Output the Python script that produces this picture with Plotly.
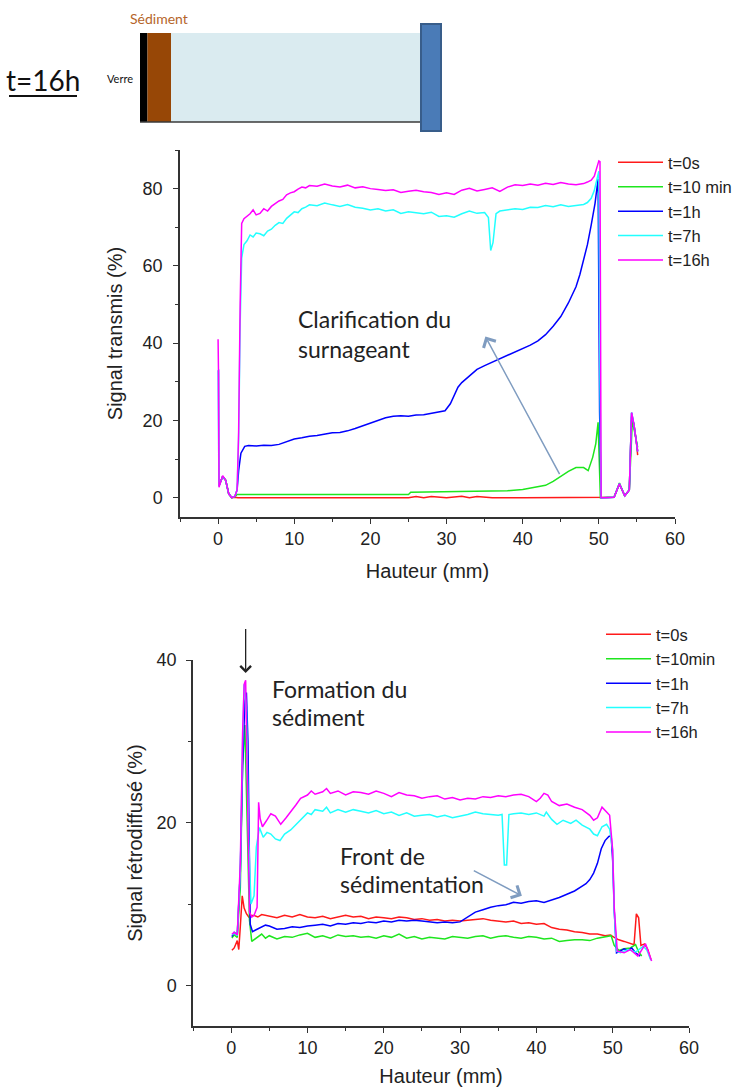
import plotly.graph_objects as go

W, H = 740, 1089

# ---------------- DATA ----------------
SERIES_NAMES_TOP = ["t=0s", "t=10 min", "t=1h", "t=7h", "t=16h"]
SERIES_NAMES_BOT = ["t=0s", "t=10min", "t=1h", "t=7h", "t=16h"]
SERIES_COLORS = ["#ff1a1a", "#1ee61e", "#0000ff", "#22ffff", "#ff00ff"]

# Top chart: transmission (%)
T_X_RED = [0.1, 0.6, 1.0, 1.4, 1.8, 2.2, 2.6, 3, 5, 10, 15, 20, 25, 26, 27, 28, 30, 32, 33, 34, 36, 40, 45, 49.9, 50.2, 51, 52, 52.7, 53.4, 54, 54.3, 54.6, 54.9, 55.1]
T_Y_RED = [3, 5.5, 4.5, 1, 0, 0.1, 0, 0, 0, 0, 0, 0, 0, 0.3, 0, 0.3, 0, 0.4, 0, 0.3, 0, 0, 0, 0, 0, 0, 0.1, 3.5, 0.5, 2, 21, 19, 15, 11]

T_X_GREEN = [0.1, 0.6, 1.0, 1.4, 1.8, 2.2, 2.5, 3, 10, 20, 25, 25.3, 30, 32, 35, 38, 40, 42, 43, 44, 45, 46, 47, 48, 48.6, 49.2, 49.6, 49.9, 50.2, 51, 52, 52.7, 53.4, 54, 54.4, 54.7, 55.1]
T_Y_GREEN = [3, 5.5, 4.5, 1, 0, 0.2, 0.8, 0.8, 0.8, 0.8, 0.8, 1.4, 1.5, 1.6, 1.6, 1.8, 2.1, 2.8, 3.2, 4.2, 5.6, 6.8, 7.8, 7.8, 7.0, 10.5, 14, 19.5, 0, 0, 0.1, 3.8, 0.5, 2, 20, 17, 13]

T_X_BLUE = [0, 0.05, 0.1, 0.6, 1.0, 1.4, 1.8, 2.2, 2.5, 2.7, 3.0, 3.5, 4, 5, 6, 7, 8, 9, 10, 11, 12, 13, 14, 15, 16, 17, 18, 19, 20, 21, 22, 23, 24, 25, 26, 27, 28, 29, 29.8, 30.5, 31, 31.5, 32, 33, 34, 35, 36, 37, 38, 39, 40, 41, 42, 43, 44, 45, 46, 47, 47.5, 48, 48.5, 49, 49.5, 49.9, 50.1, 50.3, 51, 52, 52.7, 53.4, 54, 54.3, 54.6, 54.9, 55.1]
T_Y_BLUE = [33, 33, 3, 5.5, 4.5, 1, 0, 0.3, 2, 7, 11.5, 13.3, 13.5, 13.4, 13.6, 13.5, 13.8, 14.6, 15.2, 15.5, 15.9, 16.1, 16.5, 16.8, 16.9, 17.3, 17.9, 18.6, 19.2, 20, 20.7, 21.1, 21.2, 21.1, 21.4, 21.5, 21.8, 22.1, 22.5, 24.3, 26.5, 28.6, 29.8, 31.6, 33.2, 34.2, 35.1, 35.8, 36.7, 37.6, 38.6, 39.5, 40.6, 42.2, 44.4, 46.9, 50.4, 54.6, 57.7, 61.6, 65.5, 70.6, 76.2, 82.5, 22, 0, 0, 0.1, 3.6, 0.5, 2, 22, 19, 15, 12]

T_X_CYAN = [0, 0.05, 0.1, 0.6, 1.0, 1.4, 1.8, 2.2, 2.5, 2.7, 2.9, 3.1, 3.4, 3.8, 4.2, 4.6, 5, 5.5, 6, 6.5, 7, 7.5, 8, 8.5, 9, 9.5, 10, 10.5, 11, 11.5, 12, 13, 14, 15, 16, 17, 18, 19, 20, 21, 22, 23, 24, 25, 26, 27, 28, 29, 30, 31, 32, 33, 34, 35, 35.5, 35.8, 36.1, 36.5, 37, 38, 39, 40, 41, 42, 43, 44, 45, 46, 47, 48, 48.5, 49, 49.4, 49.8, 50.0, 50.15, 50.3, 51, 52, 52.7, 53.4, 54, 54.3, 54.6, 54.9, 55.1]
T_Y_CYAN = [33, 33, 3, 5.5, 4.5, 1, 0, 0.3, 2, 15, 45, 62, 65.5, 66.5, 68, 67.5, 68.5, 68.3, 67.8, 69, 69.5, 70.5, 71.2, 71, 72.3, 73.2, 74, 73.8, 74.8, 75.2, 75.8, 75.6, 76.3, 75.8, 75.4, 75.9, 75.2, 74.9, 74.5, 74.8, 74.2, 74.5, 73.6, 74.0, 73.8, 73.5, 73.9, 72.8, 73.0, 72.6, 73.5, 74.2, 73.6, 73.8, 72.5, 64, 66, 73.5, 74.2, 74.5, 74.8, 74.6, 75.2, 75.1, 75.6, 75.3, 75.8, 75.4, 75.6, 75.9, 76.4, 77.5, 79.5, 83, 84.5, 30, 0, 0, 0.1, 3.6, 0.5, 2, 22, 19, 15, 12]

T_X_MAG = [0, 0.06, 0.12, 0.6, 1.0, 1.4, 1.8, 2.2, 2.5, 2.7, 2.9, 3.1, 3.4, 3.8, 4.2, 4.6, 5, 5.5, 6, 6.5, 7, 7.5, 8, 8.5, 9, 9.5, 10, 10.5, 11, 11.5, 12, 13, 14, 15, 16, 17, 18, 19, 20, 21, 22, 23, 24, 25, 26, 27, 28, 29, 30, 31, 32, 33, 34, 35, 36, 37, 38, 39, 40, 41, 42, 43, 44, 45, 46, 47, 48, 48.5, 49, 49.4, 49.8, 50.0, 50.15, 50.3, 51, 52, 52.7, 53.4, 54, 54.3, 54.6, 54.9, 55.1]
T_Y_MAG = [41, 32, 2.7, 5.7, 4.5, 1, 0, 0.3, 2, 17, 50, 71, 72.2, 72.8, 73.5, 74.5, 73.2, 73.6, 74.8, 74.2, 75.4, 76.1, 76.8, 77.2, 78.4, 78.9, 79.2, 79.9, 80.4, 80.2, 80.8, 80.6, 81.2, 80.7, 80.4, 80.9, 80.2, 80.5, 80.0, 79.8, 79.5, 79.7, 79.0, 79.3, 79.6, 79.2, 79.0, 78.5, 78.9, 78.5, 79.6, 80.1, 79.4, 79.8, 80.2, 79.3, 80.4, 81.0, 80.8, 81.2, 80.9, 81.4, 81.1, 81.6, 81.2, 81.0, 81.3, 81.7, 82.2, 83.2, 85.5, 87.2, 87, 0, 0, 0.1, 3.6, 0.5, 2, 22, 19, 15, 12]

# Bottom chart: backscattering (%)
B_X_RED = [0.1, 0.4, 0.8, 1.0, 1.2, 1.45, 1.7, 2.0, 2.3, 2.6, 3, 3.5, 4, 5, 6, 7, 8, 9, 10, 11, 12, 13, 14, 15, 16, 17, 18, 19, 20, 21, 22, 23, 24, 25, 26, 27, 28, 29, 30, 31, 32, 33, 34, 35, 36, 37, 38, 39, 40, 41, 42, 43, 44, 45, 46, 47, 48, 49, 49.7, 50.2, 50.8, 51.5, 52.3, 52.8, 53.1, 53.4, 53.7, 54.2, 54.6, 55.0]
B_Y_RED = [4.3, 4.6, 5.5, 4.4, 7.2, 11.0, 9.5, 8.8, 8.4, 8.6, 8.6, 8.4, 8.7, 8.5, 8.3, 8.6, 8.4, 8.7, 8.4, 8.3, 8.5, 8.2, 8.4, 8.6, 8.4, 8.5, 8.2, 8.4, 8.3, 8.2, 8.4, 8.3, 8.1, 8.2, 8.0, 8.1, 7.9, 8.0, 7.9, 8.0, 8.1, 8.2, 8.0, 7.9, 7.8, 7.9, 7.6, 7.7, 7.5, 7.6, 7.1, 6.9, 6.8, 6.6, 6.5, 6.3, 6.3, 6.1, 6.2, 5.9, 5.6, 5.4, 5.1, 5.0, 8.8, 8.3, 4.9, 5.1, 4.4, 3.2]

B_X_GREEN = [0.1, 0.4, 0.8, 1.2, 1.5, 1.8, 2.1, 2.4, 2.7, 3, 3.5, 4, 4.5, 5, 6, 7, 8, 9, 10, 11, 12, 13, 14, 15, 16, 17, 18, 19, 20, 21, 22, 23, 24, 25, 26, 27, 28, 29, 30, 31, 32, 33, 34, 35, 36, 37, 38, 39, 40, 41, 42, 43, 44, 45, 46, 47, 48, 49, 49.8, 50.2, 50.8, 51.5, 52.3, 53.0, 53.4, 53.8]
B_Y_GREEN = [5.8, 6.2, 5.9, 12, 27, 32, 20, 8, 5.4, 5.6, 5.9, 6.3, 5.8, 6.1, 5.7, 6.0, 5.9, 6.2, 6.4, 5.9, 6.1, 5.8, 6.2, 6.0, 6.1, 5.9, 6.0, 5.8, 6.1, 5.9, 6.3, 5.8, 6.0, 5.7, 5.9, 5.8, 5.7, 6.0, 5.9, 5.8, 6.0, 6.1, 5.8, 6.0, 6.1, 5.9, 5.8, 6.0, 5.9, 5.7, 5.8, 5.4, 5.5, 5.6, 5.6, 5.5, 5.8, 6.0, 6.1, 4.9, 4.3, 4.5, 4.6, 5.0, 4.1, 3.6]

B_X_BLUE = [0.1, 0.4, 0.8, 1.2, 1.5, 1.8, 2.0, 2.2, 2.5, 2.8, 3.2, 4, 4.5, 5, 6, 7, 8, 9, 10, 11, 12, 13, 14, 15, 16, 17, 18, 19, 20, 21, 22, 23, 24, 25, 26, 27, 28, 29, 30, 30.5, 31, 32, 33, 34, 35, 36, 37, 38, 39, 40, 41, 42, 43, 44, 45, 46, 46.5, 47, 47.5, 48, 48.5, 49, 49.5, 49.8, 50.0, 50.2, 50.5, 51, 51.5, 52, 52.5, 53, 53.6]
B_Y_BLUE = [6.0, 6.5, 6.2, 14, 27, 35, 36, 30, 7.5, 6.6, 6.8, 7.2, 7.4, 7.3, 6.9, 7.0, 7.2, 7.1, 7.3, 7.4, 7.5, 7.3, 7.6, 7.5, 7.7, 7.6, 7.8, 7.7, 7.9, 7.8, 8.0, 7.9, 8.0, 7.9, 7.8, 7.7, 7.8, 7.7, 7.8, 8.1, 8.5, 9.0, 9.3, 9.6, 9.8, 9.9, 10.2, 10.1, 10.3, 10.4, 10.2, 10.5, 10.8, 11.2, 11.6, 12.2, 12.5, 13.0, 13.8, 15.0, 16.8, 17.8, 18.3, 18.4, 15.3, 9.2, 4.0, 4.2, 4.5, 4.3, 4.6, 4.0, 3.6]

B_X_CYAN = [0.1, 0.4, 0.8, 1.2, 1.5, 1.7, 2.0, 2.3, 2.6, 3.0, 3.3, 3.7, 4.2, 4.7, 5.2, 5.8, 6.4, 7.0, 7.8, 8.5, 9.2, 10, 10.5, 11, 12, 12.5, 13, 14, 15, 16, 17, 18, 19, 20, 21, 22, 23, 24, 25, 26, 27, 28, 29, 30, 31, 32, 33, 34, 35, 35.5, 35.8, 36.1, 36.4, 37, 38, 39, 40, 41, 41.3, 42, 42.7, 43.5, 44.5, 45.2, 46, 47, 47.5, 48, 48.6, 49.2, 49.6, 50.0, 50.2, 50.5, 51, 52, 53, 54, 54.5, 55.0]
B_Y_CYAN = [6.2, 6.4, 6.1, 14, 30, 37, 34, 18, 10, 11, 17, 19.4, 18.2, 18.8, 18.6, 18.0, 17.8, 18.6, 19.1, 19.8, 20.4, 21.2, 21.0, 21.6, 21.4, 21.9, 21.2, 21.6, 21.3, 21.6, 21.4, 21.2, 21.5, 21.1, 21.3, 20.9, 21.2, 20.8, 20.9, 21.0, 20.7, 20.9, 20.6, 20.8, 21.0, 21.3, 21.1, 21.0, 20.9, 21.0, 14.8, 14.8, 21.0, 21.1, 21.2, 21.0, 21.2, 20.8, 21.3, 20.4, 19.8, 20.3, 19.9, 20.3, 19.7, 19.2, 18.6, 18.4, 19.5, 19.8, 19.2, 16.6, 9.2, 4.2, 4.0, 4.4, 4.1, 4.8, 4.3, 3.1]

B_X_MAG = [0.1, 0.4, 0.8, 1.2, 1.5, 1.7, 1.9, 2.1, 2.4, 2.7, 3.0, 3.4, 3.6, 3.8, 4.1, 4.6, 5.2, 5.8, 6.5, 7.2, 7.8, 8.5, 9.1, 10, 10.5, 11, 12, 12.5, 13, 14, 15, 16, 17, 18, 19, 20, 21, 22, 23, 24, 25, 26, 27, 28, 29, 30, 31, 32, 33, 34, 35, 36, 37, 38, 39, 40, 40.5, 41, 41.5, 42, 43, 44, 45, 46, 47, 47.5, 48, 48.6, 49.2, 49.6, 50.0, 50.2, 50.6, 51.5, 52.3, 53.3, 54.3, 55.1]
B_Y_MAG = [6.3, 6.5, 6.2, 15, 31, 37, 37.5, 25, 9, 8.4, 8.6, 9.6, 22.5, 20.5, 19.5, 20.2, 21.1, 20.8, 19.8, 20.6, 21.3, 22.2, 23.0, 23.4, 23.9, 23.5, 23.8, 24.2, 23.6, 23.9, 23.4, 23.8, 23.7, 23.5, 23.9, 23.6, 23.2, 23.7, 23.4, 23.3, 23.0, 23.2, 23.3, 22.9, 23.1, 22.8, 23.0, 22.9, 23.2, 23.1, 23.3, 23.2, 23.4, 23.5, 23.2, 22.6, 23.0, 23.6, 23.4, 22.6, 22.1, 22.3, 21.9, 21.6, 20.9, 20.3, 20.6, 21.9, 21.3, 20.9, 16.6, 9.6, 4.2, 4.0, 4.4, 3.6, 5.1, 3.0]

X_TICKS = [0, 10, 20, 30, 40, 50, 60]
Y_TICKS_TOP = [0, 20, 40, 60, 80]
Y_TICKS_BOT = [0, 20, 40]

TOP_SERIES = [(T_X_RED, T_Y_RED), (T_X_GREEN, T_Y_GREEN), (T_X_BLUE, T_Y_BLUE), (T_X_CYAN, T_Y_CYAN), (T_X_MAG, T_Y_MAG)]
BOT_SERIES = [(B_X_RED, B_Y_RED), (B_X_GREEN, B_Y_GREEN), (B_X_BLUE, B_Y_BLUE), (B_X_CYAN, B_Y_CYAN), (B_X_MAG, B_Y_MAG)]

# ---------------- helpers (pixel -> paper) ----------------
def PX(p):
    return p / W

def PY(p):
    return 1 - p / H

AX_FONT = "Liberation Sans, Arial, sans-serif"
CAL_FONT = "Lato, Carlito, Calibri, sans-serif"

fig = go.Figure()

for (xs, ys), name, col in zip(TOP_SERIES, SERIES_NAMES_TOP, SERIES_COLORS):
    fig.add_trace(go.Scatter(x=xs, y=ys, mode="lines", name=name,
                             line=dict(color=col, width=1.5),
                             xaxis="x", yaxis="y", legend="legend"))
for (xs, ys), name, col in zip(BOT_SERIES, SERIES_NAMES_BOT, SERIES_COLORS):
    fig.add_trace(go.Scatter(x=xs, y=ys, mode="lines", name=name,
                             line=dict(color=col, width=1.5),
                             xaxis="x2", yaxis="y2", legend="legend2"))

axis_common = dict(showgrid=False, zeroline=False, showline=True, linecolor="#333333",
                   linewidth=1.5, ticks="outside", ticklen=5, tickwidth=1.3, tickcolor="#333333",
                   tickfont=dict(family=AX_FONT, size=18, color="#222222"))

fig.update_layout(
    width=W, height=H,
    margin=dict(l=0, r=0, t=0, b=0, pad=0, autoexpand=False),
    paper_bgcolor="white", plot_bgcolor="white",
    showlegend=True,
    xaxis=dict(domain=[PX(180), PX(675)], anchor="y", range=[-5, 60], tickvals=X_TICKS,
               minor=dict(ticks="outside", ticklen=3, dtick=5, tick0=0, tickcolor="#333333"),
               title=dict(text="Hauteur (mm)", font=dict(family=AX_FONT, size=20, color="#222222"), standoff=16),
               **axis_common),
    yaxis=dict(domain=[PY(517), PY(150)], anchor="x", range=[-5, 90], tickvals=Y_TICKS_TOP,
               minor=dict(ticks="outside", ticklen=3, dtick=10, tick0=0, tickcolor="#333333"),
               ticklabelstandoff=7,
               title=dict(text="Signal transmis (%)", font=dict(family=AX_FONT, size=20, color="#222222"), standoff=15),
               **axis_common),
    xaxis2=dict(domain=[PX(193), PX(689)], anchor="y2", range=[-5, 60], tickvals=X_TICKS,
                minor=dict(ticks="outside", ticklen=3, dtick=5, tick0=0, tickcolor="#333333"),
                title=dict(text="Hauteur (mm)", font=dict(family=AX_FONT, size=20, color="#222222"), standoff=12),
                **axis_common),
    yaxis2=dict(domain=[PY(1026), PY(660)], anchor="x2", range=[-5, 40], tickvals=Y_TICKS_BOT,
                minor=dict(ticks="outside", ticklen=3, dtick=10, tick0=0, tickcolor="#333333"),
                ticklabelstandoff=6,
                title=dict(text="Signal rétrodiffusé (%)", font=dict(family=AX_FONT, size=20, color="#222222"), standoff=9),
                **axis_common),
    legend=dict(x=PX(613), y=PY(145), xanchor="left", yanchor="top", bgcolor="rgba(0,0,0,0)",
                font=dict(family=AX_FONT, size=16.5, color="#222222"), itemwidth=45, tracegroupgap=0),
    legend2=dict(x=PX(601), y=PY(617), xanchor="left", yanchor="top", bgcolor="rgba(0,0,0,0)",
                 font=dict(family=AX_FONT, size=16.5, color="#222222"), itemwidth=45, tracegroupgap=0),
)

# ---------------- header drawing ----------------
shapes = [
    dict(type="rect", xref="paper", yref="paper", x0=PX(171), x1=PX(421), y0=PY(122), y1=PY(33),
         fillcolor="#daebf0", line=dict(width=0), layer="below"),
    dict(type="rect", xref="paper", yref="paper", x0=PX(140), x1=PX(147.5), y0=PY(122), y1=PY(33),
         fillcolor="#000000", line=dict(width=0)),
    dict(type="rect", xref="paper", yref="paper", x0=PX(147.5), x1=PX(171), y0=PY(122), y1=PY(33),
         fillcolor="#974706", line=dict(width=0)),
    dict(type="line", xref="paper", yref="paper", x0=PX(140), x1=PX(421), y0=PY(122), y1=PY(122),
         line=dict(color="#3a3a3a", width=1.5)),
    dict(type="rect", xref="paper", yref="paper", x0=PX(421), x1=PX(441), y0=PY(131), y1=PY(24),
         fillcolor="#4a7bb7", line=dict(color="#385d8a", width=2)),
    dict(type="line", xref="paper", yref="paper", x0=PX(9), x1=PX(77), y0=PY(96), y1=PY(96),
         line=dict(color="#111111", width=2)),
]
fig.update_layout(shapes=shapes)

annotations = [
    dict(text="t=16h", xref="paper", yref="paper", x=PX(43), y=PY(80), showarrow=False,
         xanchor="center", yanchor="middle", font=dict(family=CAL_FONT, size=28, color="#111111")),
    dict(text="Sédiment", xref="paper", yref="paper", x=PX(159), y=PY(19), showarrow=False,
         xanchor="center", yanchor="middle", font=dict(family=CAL_FONT, size=14, color="#b5652a")),
    dict(text="Verre", xref="paper", yref="paper", x=PX(120), y=PY(79), showarrow=False,
         xanchor="center", yanchor="middle", font=dict(family=CAL_FONT, size=11, color="#111111")),
    dict(text="Clarification du", xref="x", yref="y", x=10.2, y=46.2, showarrow=False,
         xanchor="left", yanchor="middle", font=dict(family=CAL_FONT, size=23, color="#222222")),
    dict(text="surnageant", xref="x", yref="y", x=10.2, y=38.4, showarrow=False,
         xanchor="left", yanchor="middle", font=dict(family=CAL_FONT, size=23, color="#222222")),
    dict(text="", xref="x", yref="y", x=35.1, y=41.7, axref="x", ayref="y", ax=44.95, ay=5.7,
         showarrow=True, arrowhead=4, arrowsize=1.8, arrowwidth=1.5, arrowcolor="#7f9cc0"),
    dict(text="Formation du", xref="x2", yref="y2", x=5.1, y=36.4, showarrow=False,
         xanchor="left", yanchor="middle", font=dict(family=CAL_FONT, size=23, color="#222222")),
    dict(text="sédiment", xref="x2", yref="y2", x=5.1, y=33.0, showarrow=False,
         xanchor="left", yanchor="middle", font=dict(family=CAL_FONT, size=23, color="#222222")),
    dict(text="Front de", xref="x2", yref="y2", x=14.0, y=15.9, showarrow=False,
         xanchor="left", yanchor="middle", font=dict(family=CAL_FONT, size=23, color="#222222")),
    dict(text="sédimentation", xref="x2", yref="y2", x=14.0, y=12.4, showarrow=False,
         xanchor="left", yanchor="middle", font=dict(family=CAL_FONT, size=23, color="#222222")),
    dict(text="", xref="x2", yref="y2", x=1.9, y=38.4, axref="x2", ayref="y2", ax=1.9, ay=44,
         showarrow=True, arrowhead=4, arrowsize=1.6, arrowwidth=1.3, arrowcolor="#222222"),
    dict(text="", xref="x2", yref="y2", x=38.1, y=11.0, axref="x2", ayref="y2", ax=31.6, ay=14.2,
         showarrow=True, arrowhead=4, arrowsize=1.8, arrowwidth=1.5, arrowcolor="#7f9cc0"),
]
fig.update_layout(annotations=annotations)

PIN_JS = (
    "document.documentElement.style.margin='0';"
    "document.documentElement.style.overflow='hidden';"
    "document.body.style.margin='0';document.body.style.overflow='hidden';"
    "var gd=document.getElementsByClassName('plotly-graph-div')[0];"
    "gd.style.position='fixed';gd.style.top='0px';gd.style.left='0px';"
)
fig.write_html("out.html", config={"displayModeBar": False}, post_script=PIN_JS)
